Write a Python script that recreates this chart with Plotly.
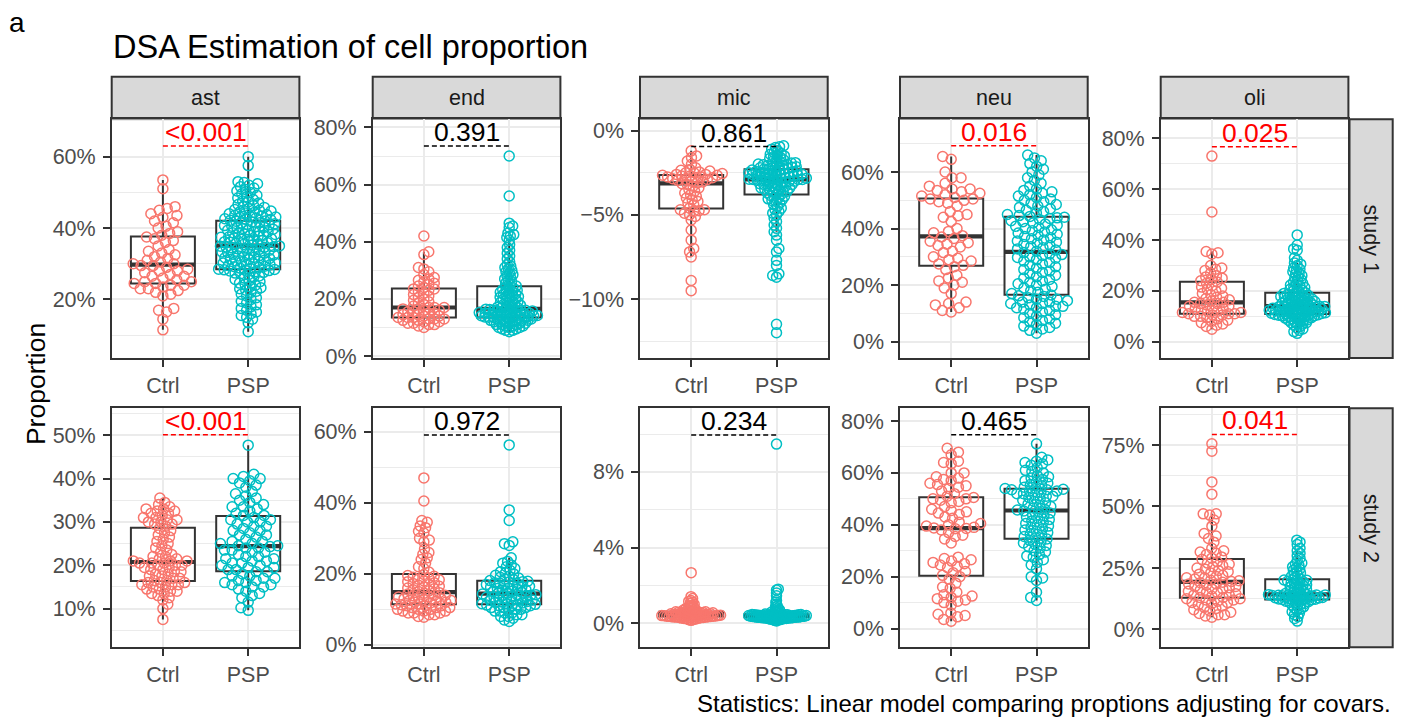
import math
import numpy as np
import plotly.graph_objects as go

# ---------------- data (proportions in percent) ----------------
CELLS = ["ast", "end", "mic", "neu", "oli"]
STUDIES = ["study 1", "study 2"]
GROUPS = ["Ctrl", "PSP"]

ast_s1_ctrl = [11.5, 14.5, 16.5, 17.0, 17.5, 21.0, 21.5, 22.0, 22.5, 23.0, 23.0, 23.5, 24.0, 24.0, 24.5,
               24.5, 25.0, 25.0, 25.5, 26.0, 26.5, 26.5, 27.0, 27.5, 28.0, 28.0, 28.5, 29.0, 29.5, 29.5,
               30.0, 30.0, 30.5, 31.0, 31.5, 32.0, 32.5, 33.0, 33.5, 34.0, 35.0, 36.0, 36.5, 37.0, 37.5,
               38.0, 38.5, 39.0, 40.0, 40.5, 41.5, 42.0, 43.0, 43.5, 44.0, 45.0, 45.5, 46.0, 51.0, 53.5]
ast_s1_psp = [11.0, 13.5, 14.5, 15.0, 15.5, 16.0, 16.5, 17.0, 17.5, 18.0, 18.5, 19.0, 19.5, 20.0, 20.5,
              21.0, 21.5, 22.0, 22.3, 22.6, 23.0, 23.3, 23.6, 24.0, 24.3, 24.6, 25.0, 25.3, 25.6, 26.0,
              26.3, 26.6, 27.0, 27.2, 27.4, 27.6, 27.8, 28.0, 28.1, 28.2, 28.3, 28.4,
              28.5, 28.7, 28.8, 29.0, 29.2, 29.3, 29.5, 29.7, 29.8, 30.0, 30.2, 30.3, 30.5, 30.7, 30.8,
              31.0, 31.2, 31.3, 31.5, 31.7, 31.8, 32.0, 32.2, 32.3, 32.5, 32.7, 32.8, 33.0, 33.2, 33.3,
              33.5, 33.7, 33.8, 34.0, 34.2, 34.3, 34.5, 34.6, 34.7, 34.8, 34.9, 35.0,
              35.2, 35.4, 35.5, 35.7, 35.9, 36.0, 36.2, 36.4, 36.5, 36.7, 36.9, 37.0, 37.2, 37.4, 37.5,
              37.7, 37.9, 38.0, 38.2, 38.4, 38.5, 38.7, 38.9, 39.0, 39.2, 39.4, 39.5, 39.7, 39.9, 40.0,
              40.2, 40.4, 40.5, 40.7, 40.9, 41.0, 41.2, 41.4, 41.5, 41.7, 41.9, 42.0,
              42.2, 42.4, 42.5, 42.6, 42.8, 43.0, 43.1, 43.3, 43.4, 43.6, 43.8, 44.0, 44.2, 44.4, 44.6,
              44.8, 45.0, 45.2, 45.5, 45.8, 46.0, 46.3, 46.6, 47.0, 47.3, 47.6, 48.0, 48.4, 48.8, 49.2,
              49.6, 50.0, 50.4, 50.8, 51.2, 51.6, 52.0, 52.4, 52.8, 53.0, 57.5, 60.0]

end_s1_ctrl = [10.0, 10.5, 11.0, 11.0, 11.5, 11.5, 12.0, 12.0, 12.5, 12.5, 13.0, 13.0, 13.0, 13.5, 13.5,
               13.5, 14.0, 14.0, 14.5, 14.5, 15.0, 15.0, 15.5, 15.5, 16.0, 16.0, 16.5, 16.5, 17.0, 17.0,
               17.0, 17.5, 18.0, 18.5, 19.0, 19.5, 20.0, 20.5, 21.0, 21.5, 22.0, 22.5, 23.0, 23.5, 23.5,
               24.0, 24.5, 25.0, 25.5, 26.0, 26.5, 27.0, 27.5, 28.5, 29.5, 30.5, 31.0, 35.5, 36.5, 42.0]
end_s1_psp = [8.5, 9.0, 9.0, 9.5, 9.5, 10.0, 10.0, 10.0, 10.5, 10.5, 10.5, 11.0, 11.0, 11.0, 11.5, 11.5,
              11.5, 12.0, 12.0, 12.0, 12.0, 12.5, 12.5, 12.5, 12.5, 13.0, 13.0, 13.0, 13.0, 13.5, 13.5, 13.5,
              13.5, 13.6, 13.7, 13.8, 13.9, 14.0, 14.0, 14.1, 14.2, 14.3, 14.4, 14.5, 14.6, 14.7, 14.8, 14.9,
              15.0, 15.0, 15.1, 15.2, 15.3, 15.4, 15.5, 15.6, 15.7, 15.8, 15.9, 16.0, 16.0, 16.2, 16.3, 16.4, 16.5,
              16.6, 16.8, 17.0, 17.1, 17.3, 17.6, 17.8, 18.0, 18.3, 18.6, 18.8, 19.0, 19.3, 19.6, 19.8, 20.0,
              20.3, 20.6, 20.8, 21.0, 21.3, 21.6, 21.8, 22.0, 22.3, 22.6, 22.8, 23.0, 23.3, 23.6, 24.0, 24.2,
              24.5, 25.0, 25.5, 26.0, 26.5, 27.0, 27.5, 28.0, 28.5, 29.0, 29.5, 30.0, 30.5, 31.0, 31.5, 32.0,
              33.0, 34.0, 35.0, 36.0, 37.0, 38.0, 39.0, 40.5, 41.5, 42.0, 42.5, 43.0, 45.0, 45.5, 46.5, 56.0, 70.0]

mic_s1_ctrl = [-9.5, -8.9, -7.5, -7.2, -7.0, -6.5, -5.9, -5.3, -5.1, -5.0, -4.9, -4.8, -4.75, -4.7, -4.7,
               -4.6, -4.4, -4.3, -4.2, -4.1, -4.0, -3.9, -3.8, -3.7, -3.6, -3.5, -3.4, -3.3, -3.2, -3.15,
               -3.1, -3.05, -3.0, -2.95, -2.9, -2.9, -2.85, -2.8, -2.8, -2.75, -2.75, -2.7, -2.7, -2.65, -2.65,
               -2.6, -2.6, -2.55, -2.5, -2.5, -2.45, -2.4, -2.35, -2.3, -2.2, -2.0, -1.8, -1.6, -1.5, -1.2]
mic_s1_psp = [-12.0, -11.5, -8.7, -8.6, -8.5, -8.0, -7.7, -7.2, -7.0, -6.5, -6.2, -6.0, -5.8, -5.6, -5.4,
              -5.2, -5.0, -4.9, -4.8, -4.7, -4.6, -4.5, -4.4, -4.3, -4.2, -4.15, -4.1, -4.05, -4.0, -3.95,
              -3.9, -3.85,
              -3.8, -3.75, -3.7, -3.65, -3.6, -3.6, -3.55, -3.5, -3.5, -3.45, -3.4, -3.4, -3.35, -3.3, -3.3,
              -3.25, -3.25, -3.2, -3.2, -3.15, -3.1, -3.1, -3.05, -3.05, -3.0, -3.0, -3.0, -2.95, -2.95,
              -2.95, -2.9, -2.9, -2.9,
              -2.88, -2.86, -2.84, -2.82, -2.8, -2.78, -2.76, -2.74, -2.72, -2.7, -2.68, -2.66, -2.64, -2.62,
              -2.6, -2.6, -2.58, -2.56, -2.54, -2.52, -2.5, -2.5, -2.48, -2.46, -2.44, -2.42, -2.4, -2.38,
              -2.36, -2.34, -2.32, -2.3,
              -2.28, -2.25, -2.22, -2.2, -2.18, -2.15, -2.12, -2.1, -2.08, -2.05, -2.02, -2.0, -1.98, -1.95,
              -1.92, -1.9, -1.85, -1.8, -1.75, -1.7, -1.65, -1.6, -1.55, -1.5, -1.45, -1.4, -1.35, -1.3,
              -1.2, -1.1, -1.0, -0.95, -0.9]

neu_s1_ctrl = [10.5, 11.0, 12.0, 13.0, 13.5, 14.0, 17.0, 19.0, 20.0, 21.0, 21.5, 22.5, 23.5, 25.5, 26.5,
               27.0, 27.5, 28.5, 29.0, 29.5, 30.0, 31.5, 32.0, 33.5, 34.0, 34.5, 35.0, 35.5, 36.5, 37.0,
               37.5, 38.5, 39.0, 40.0, 42.5, 44.0, 44.5, 45.0, 46.0, 48.0, 49.0, 49.5, 50.0, 50.5, 50.5,
               51.0, 51.5, 52.0, 52.5, 53.0, 53.5, 54.0, 54.0, 55.0, 56.0, 58.0, 58.0, 60.0, 64.5, 65.5]
neu_s1_psp = [3.0, 4.0, 4.5, 5.0, 5.5, 6.0, 6.5, 7.0, 7.5, 8.0, 8.5, 9.0, 9.5, 10.0, 10.5, 11.0, 11.5,
              12.0, 12.0, 12.5, 12.5, 13.0, 13.5, 13.5, 14.0, 14.0, 14.5, 15.0, 15.0, 15.5, 16.0, 16.2,
              16.5, 17.0, 17.5, 18.0, 18.5, 19.0, 19.5, 20.0, 20.5, 21.0, 21.5, 22.0, 22.5, 23.0, 23.5,
              24.0, 24.5, 25.0, 25.5, 26.0, 26.5, 27.0, 27.5, 28.0, 28.5, 29.0, 29.5, 29.8, 30.0, 30.5,
              30.8, 31.0, 31.5,
              32.0, 32.4, 32.8, 33.2, 33.6, 34.0, 34.4, 34.8, 35.2, 35.6, 36.0, 36.4, 36.8, 37.2, 37.6,
              38.0, 38.4, 38.8, 39.2, 39.6, 40.0, 40.4, 40.8, 41.2, 41.6, 42.0, 42.4, 42.8, 43.2, 43.6,
              43.8, 44.0,
              44.3, 44.6, 45.0, 45.5, 46.0, 46.5, 47.0, 47.5, 48.0, 48.5, 49.0, 49.5, 50.0, 50.5, 51.0,
              51.5, 52.0, 52.5, 53.0, 53.5, 54.0, 55.0, 56.0, 57.0, 58.0, 59.0, 60.0, 61.0, 62.0, 63.0,
              64.0, 65.0, 66.0]

oli_s1_ctrl = [4.9, 6.0, 6.5, 7.0, 7.5, 8.0, 8.5, 9.0, 9.5, 10.0, 10.0, 10.5, 10.5, 11.0, 11.0,
               11.0, 11.5, 11.5, 12.0, 12.0, 12.5, 13.0, 13.0, 13.5, 14.0, 14.0, 14.5, 15.0, 15.0, 15.5,
               15.5, 16.0, 16.5, 17.0, 17.5, 18.0, 18.5, 19.0, 20.0, 20.5, 21.0, 21.5, 22.0, 23.0, 23.5,
               24.0, 24.5, 25.0, 25.5, 26.0, 27.0, 28.0, 28.5, 29.0, 30.0, 34.5, 35.0, 35.5, 51.0, 73.0]
oli_s1_psp = [3.3, 4.0, 4.5, 5.0, 5.5, 6.0, 6.5, 7.0, 7.0, 7.5, 7.5, 8.0, 8.0, 8.5, 8.5, 8.8, 9.0, 9.0,
              9.3, 9.5, 9.5, 9.8, 10.0, 10.0, 10.2, 10.3, 10.4, 10.5, 10.5, 10.6, 10.7, 10.8,
              10.9, 11.0, 11.1, 11.2, 11.3, 11.4, 11.5, 11.6, 11.7, 11.8, 11.9, 12.0, 12.0, 12.1, 12.2,
              12.3, 12.4, 12.5, 12.6, 12.7, 12.8, 12.9, 13.0, 13.1, 13.2, 13.3, 13.4, 13.5, 13.6, 13.7,
              13.8, 13.9, 14.0,
              14.0, 14.1, 14.3, 14.5, 14.6, 14.8, 15.0, 15.0, 15.1, 15.3, 15.5, 15.6, 15.8, 16.0, 16.1,
              16.3, 16.5, 16.6, 16.8, 17.0, 17.1, 17.3, 17.5, 17.6, 17.8, 18.0, 18.1, 18.3, 18.5, 18.6,
              18.8, 19.0,
              19.3, 19.6, 20.0, 20.3, 20.6, 21.0, 21.3, 21.6, 22.0, 22.3, 22.6, 23.0, 23.5, 24.0, 24.5,
              25.0, 25.5, 26.0, 26.5, 27.0, 27.5, 28.0, 28.5, 29.0, 30.0, 30.5, 31.0, 32.0, 33.0, 36.0,
              36.5, 38.0, 42.0]

ast_s2_ctrl = [7.5, 10.0, 11.0, 12.0, 12.5, 13.0, 13.5, 13.5, 14.0, 14.0, 14.5, 14.5, 15.0, 15.0, 15.5,
               15.5, 15.5, 16.0, 16.0, 16.0,
               16.5, 16.5, 17.0, 17.0, 17.5, 17.5, 18.0, 18.0, 18.5, 18.5, 19.0, 19.0, 19.5, 19.5, 20.0,
               20.0, 20.0, 20.5, 20.5, 20.5,
               21.0, 21.0, 21.0, 21.5, 21.5, 22.0, 22.0, 22.5, 23.0, 23.5, 24.0, 24.5, 25.0, 25.5, 26.0,
               26.5, 27.0, 27.5, 28.0, 28.5,
               29.0, 29.5, 29.5, 30.0, 30.0, 30.5, 30.5, 31.0, 31.0, 31.5, 32.0, 32.0, 32.5, 32.5, 33.0,
               33.0, 33.5, 34.0, 34.5, 35.5]
ast_s2_psp = [9.6, 10.2, 11.5, 12.5, 13.0, 13.5, 14.0, 14.5, 15.0, 15.0, 15.5, 15.5, 16.0, 16.0, 16.5,
              16.5, 17.0, 17.0, 17.5, 17.5, 18.0, 18.5,
              18.5, 19.0, 19.0, 19.5, 19.5, 20.0, 20.0, 20.5, 20.5, 21.0, 21.0, 21.5, 21.5, 22.0, 22.0,
              22.5, 23.0, 23.0, 23.5, 23.5, 24.0, 24.0, 24.3,
              24.5, 24.5, 25.0, 25.0, 25.5, 25.5, 26.0, 26.5, 27.0, 27.0, 27.5, 28.0, 28.0, 28.5, 29.0,
              29.0, 29.5, 30.0, 30.0, 30.5, 30.5, 31.0,
              31.5, 31.5, 32.0, 32.5, 33.0, 33.5, 33.5, 34.0, 34.5, 35.0, 35.5, 36.0, 36.5, 37.0, 38.0,
              38.5, 39.0, 39.5, 40.0, 40.0, 40.5, 41.0, 47.7]

end_s2_ctrl = [7.8, 8.0, 8.5, 8.5, 9.0, 9.0, 9.0, 9.5, 9.5, 9.5, 10.0, 10.0, 10.0, 10.5, 10.5, 10.5,
               11.0, 11.0, 11.0, 11.3,
               11.5, 11.5, 11.8, 12.0, 12.0, 12.3, 12.5, 12.5, 12.8, 13.0, 13.0, 13.3, 13.5, 13.5, 13.8,
               14.0, 14.0, 14.3, 14.5, 14.7,
               15.0, 15.2, 15.5, 15.8, 16.0, 16.3, 16.5, 16.8, 17.0, 17.3, 17.5, 17.8, 18.0, 18.3, 18.5,
               18.8, 19.0, 19.3, 19.5, 19.8,
               20.5, 21.5, 22.0, 23.0, 24.0, 24.5, 25.5, 26.0, 27.0, 29.0, 29.5, 30.0, 31.5, 32.0, 33.0,
               33.5, 34.5, 35.0, 40.5, 47.0]
end_s2_psp = [6.6, 7.0, 7.5, 8.0, 8.0, 8.5, 8.5, 9.0, 9.0, 9.5, 9.5, 10.0, 10.0, 10.0, 10.5, 10.5, 10.5,
              11.0, 11.0, 11.0, 11.2, 11.3,
              11.4, 11.5, 11.6, 11.8, 12.0, 12.0, 12.2, 12.4, 12.5, 12.6, 12.8, 13.0, 13.0, 13.2, 13.4,
              13.5, 13.6, 13.8, 14.0, 14.0, 14.1, 14.2, 14.3,
              14.5, 14.6, 14.8, 15.0, 15.2, 15.4, 15.5, 15.7, 15.9, 16.0, 16.2, 16.4, 16.5, 16.7, 16.9,
              17.0, 17.2, 17.4, 17.5, 17.7, 17.8, 17.9,
              18.1, 18.3, 18.5, 18.8, 19.0, 19.3, 19.6, 20.0, 20.3, 20.6, 21.0, 21.5, 22.0, 22.5, 23.0,
              23.5, 24.5, 28.0, 28.5, 29.0, 35.0, 38.0, 56.3]

mic_s2_ctrl = [0.15, 0.18, 0.2, 0.22, 0.24, 0.25, 0.26, 0.27, 0.28, 0.29, 0.3, 0.3, 0.31, 0.32, 0.32,
               0.33, 0.33, 0.34, 0.34, 0.35,
               0.35, 0.36, 0.36, 0.37, 0.37, 0.38, 0.38, 0.39, 0.39, 0.4, 0.4, 0.41, 0.41, 0.42, 0.42,
               0.43, 0.43, 0.44, 0.44, 0.45,
               0.45, 0.46, 0.47, 0.48, 0.49, 0.5, 0.5, 0.51, 0.52, 0.53, 0.54, 0.55, 0.55, 0.56, 0.57,
               0.57, 0.58, 0.59, 0.6, 0.6,
               0.62, 0.64, 0.66, 0.68, 0.7, 0.72, 0.75, 0.78, 0.8, 0.85, 0.9, 0.95, 1.0, 1.05, 1.1,
               1.15, 1.2, 1.3, 1.4, 2.67]
mic_s2_psp = [0.12, 0.15, 0.17, 0.19, 0.2, 0.21, 0.22, 0.23, 0.24, 0.25, 0.25, 0.26, 0.26, 0.27, 0.27,
              0.28, 0.28, 0.29, 0.29, 0.3, 0.3, 0.3,
              0.31, 0.31, 0.32, 0.32, 0.32, 0.33, 0.33, 0.33, 0.34, 0.34, 0.34, 0.35, 0.35, 0.35, 0.36,
              0.36, 0.36, 0.37, 0.37, 0.37, 0.38, 0.38, 0.38,
              0.39, 0.39, 0.39, 0.4, 0.4, 0.4, 0.41, 0.41, 0.42, 0.42, 0.42, 0.43, 0.43, 0.43, 0.44,
              0.44, 0.44, 0.45, 0.45, 0.45, 0.46, 0.46,
              0.47, 0.48, 0.5, 0.52, 0.54, 0.56, 0.58, 0.6, 0.63, 0.66, 0.7, 0.75, 0.8, 0.85, 0.9, 1.0,
              1.1, 1.2, 1.45, 1.6, 1.75, 1.8, 9.47]

neu_s2_ctrl = [2.8, 3.5, 4.5, 5.0, 5.5, 6.0, 9.0, 10.0, 10.5, 11.0, 11.5, 12.0, 12.5, 13.0, 14.0, 15.5,
               16.0, 17.5, 19.0, 20.0,
               20.5, 21.5, 22.0, 23.5, 24.0, 24.5, 25.0, 25.5, 26.0, 26.5, 27.0, 27.5, 33.0, 34.5, 35.5,
               36.0, 37.0, 38.0, 38.5, 38.6,
               38.8, 39.0, 39.5, 40.0, 40.5, 41.0, 42.5, 43.0, 44.0, 44.5, 45.0, 45.5, 46.0, 47.0, 48.5,
               49.0, 49.5, 50.0, 50.0, 50.5,
               51.0, 52.0, 53.0, 54.0, 54.5, 55.0, 55.5, 56.0, 57.0, 57.5, 58.0, 58.5, 60.0, 60.0, 63.5,
               64.0, 64.5, 67.0, 68.0, 69.5]
neu_s2_psp = [10.8, 12.0, 14.0, 18.5, 19.5, 20.0, 23.0, 24.5, 25.5, 26.5, 27.5, 28.0, 28.5, 29.5, 30.0,
              31.0, 31.5, 32.0, 32.5, 33.0, 33.5, 34.0,
              34.5, 35.0, 35.5, 36.0, 36.5, 37.0, 37.5, 38.0, 38.5, 39.0, 39.5, 40.0, 40.5, 41.0, 41.5,
              42.0, 42.5, 43.0, 43.5, 44.0, 44.5, 45.0, 45.3,
              45.7, 46.0, 46.5, 47.0, 47.5, 48.0, 48.5, 49.0, 49.5, 50.0, 50.5, 51.0, 51.0, 51.5, 52.0,
              52.0, 52.5, 53.0, 53.0, 53.5, 53.5, 53.7,
              54.0, 54.0, 54.5, 55.0, 55.5, 56.0, 56.5, 57.0, 57.5, 58.0, 58.5, 59.0, 60.0, 60.5, 61.0,
              62.0, 63.0, 63.5, 64.0, 64.5, 65.0, 66.0, 71.2]

oli_s2_ctrl = [5.0, 5.5, 6.0, 6.0, 6.5, 7.0, 7.5, 8.0, 8.5, 9.0, 9.5, 10.0, 10.5, 11.0, 11.0, 11.5,
               12.0, 12.0, 12.5, 12.5,
               13.0, 13.0, 13.5, 14.0, 14.0, 14.5, 15.0, 15.0, 15.5, 16.0, 16.5, 16.5, 17.0, 17.5, 17.5,
               18.0, 18.5, 18.5, 19.0, 19.2,
               19.5, 19.8, 20.0, 20.5, 21.0, 21.0, 21.5, 22.0, 22.5, 23.0, 23.5, 24.0, 24.5, 25.0, 25.5,
               26.0, 26.5, 27.0, 27.5, 28.5,
               29.0, 29.5, 30.5, 31.0, 31.5, 32.0, 33.0, 35.5, 37.0, 38.0, 39.0, 42.0, 44.5, 46.5, 47.0,
               47.0, 55.0, 60.0, 72.5, 75.5]
oli_s2_psp = [3.4, 4.5, 5.2, 6.0, 6.6, 7.2, 7.8, 8.3, 8.8, 9.2, 9.6, 10.0, 10.3, 10.6, 10.9, 11.1,
              11.3, 11.5, 11.7, 11.9, 12.0, 12.1,
              12.2, 12.3, 12.4, 12.5, 12.6, 12.7, 12.8, 12.9, 13.0, 13.1, 13.2, 13.3, 13.4, 13.5, 13.6,
              13.7, 13.8, 13.9, 14.0, 14.05, 14.1, 14.15, 14.2,
              14.4, 14.6, 14.9, 15.2, 15.5, 15.8, 16.1, 16.4, 16.7, 17.0, 17.3, 17.6, 17.9, 18.2, 18.5,
              18.8, 19.1, 19.4, 19.6, 19.8, 20.0, 20.1,
              20.5, 21.0, 21.5, 22.0, 22.5, 23.0, 23.5, 24.0, 24.5, 25.0, 25.5, 26.0, 26.5, 27.0, 28.0,
              29.0, 30.0, 31.0, 32.0, 33.0, 34.5, 35.5, 36.3]

VALUES = {
    ("ast", "study 1", "Ctrl"): ast_s1_ctrl, ("ast", "study 1", "PSP"): ast_s1_psp,
    ("end", "study 1", "Ctrl"): end_s1_ctrl, ("end", "study 1", "PSP"): end_s1_psp,
    ("mic", "study 1", "Ctrl"): mic_s1_ctrl, ("mic", "study 1", "PSP"): mic_s1_psp,
    ("neu", "study 1", "Ctrl"): neu_s1_ctrl, ("neu", "study 1", "PSP"): neu_s1_psp,
    ("oli", "study 1", "Ctrl"): oli_s1_ctrl, ("oli", "study 1", "PSP"): oli_s1_psp,
    ("ast", "study 2", "Ctrl"): ast_s2_ctrl, ("ast", "study 2", "PSP"): ast_s2_psp,
    ("end", "study 2", "Ctrl"): end_s2_ctrl, ("end", "study 2", "PSP"): end_s2_psp,
    ("mic", "study 2", "Ctrl"): mic_s2_ctrl, ("mic", "study 2", "PSP"): mic_s2_psp,
    ("neu", "study 2", "Ctrl"): neu_s2_ctrl, ("neu", "study 2", "PSP"): neu_s2_psp,
    ("oli", "study 2", "Ctrl"): oli_s2_ctrl, ("oli", "study 2", "PSP"): oli_s2_psp,
}

P_LABELS = {
    ("ast", "study 1"): "<0.001", ("end", "study 1"): "0.391", ("mic", "study 1"): "0.861",
    ("neu", "study 1"): "0.016", ("oli", "study 1"): "0.025",
    ("ast", "study 2"): "<0.001", ("end", "study 2"): "0.972", ("mic", "study 2"): "0.234",
    ("neu", "study 2"): "0.465", ("oli", "study 2"): "0.041",
}

Y_TICKS = {
    ("ast", "study 1"): [20, 40, 60], ("end", "study 1"): [0, 20, 40, 60, 80],
    ("mic", "study 1"): [-10, -5, 0], ("neu", "study 1"): [0, 20, 40, 60],
    ("oli", "study 1"): [0, 20, 40, 60, 80],
    ("ast", "study 2"): [10, 20, 30, 40, 50], ("end", "study 2"): [0, 20, 40, 60],
    ("mic", "study 2"): [0, 4, 8], ("neu", "study 2"): [0, 20, 40, 60, 80],
    ("oli", "study 2"): [0, 25, 50, 75],
}

TITLE = "DSA Estimation of cell proportion"
CAPTION = "Statistics: Linear model comparing proptions adjusting for covars."
Y_TITLE = "Proportion"

# ---------------- layout / style ----------------
W, H = 1401, 728
FONT = "Liberation Sans, Arial, Helvetica, sans-serif"
COLORS = {"Ctrl": "#F8766D", "PSP": "#00BFC4"}
GRID = "#EBEBEB"
DARK = "#333333"

Y_RANGES = {
    ("ast", "study 1"): [3.6, 70.5], ("end", "study 1"): [-0.7, 82.9],
    ("mic", "study 1"): [-13.5, 0.68], ("neu", "study 1"): [-5.8, 78.7],
    ("oli", "study 1"): [-6.4, 87.5],
    ("ast", "study 2"): [1.1, 56.2], ("end", "study 2"): [-0.66, 66.6],
    ("mic", "study 2"): [-1.27, 11.36], ("neu", "study 2"): [-7.2, 84.9],
    ("oli", "study 2"): [-7.2, 89.9],
}
COL_LEFT = [111.7, 372.7, 640.0, 900.0, 1160.7]
COL_W = 187.7
ROW_TOP = [118.3, 412.7]
ROW_H = 243.2
X_RANGE = [0.4, 2.6]
STRIP_TOP = 75.0
STRIP_R = (1349.5, 1392.7)


def fx(px):
    return px / W


def fy(py):
    return 1 - py / H


def swarm_offsets(vals, ypx, dmax, half):
    y = np.asarray(vals, float) * ypx
    order = np.argsort(y, kind="stable")
    d = dmax
    while True:
        xs = np.zeros(len(y))
        pxs, pys = [], []
        for k, i in enumerate(order):
            yi = y[i]
            if pxs:
                ax = np.array(pxs)
                ay = np.array(pys)
                m = np.abs(ay - yi) < d
                nx, ny = ax[m], ay[m]
            else:
                nx, ny = np.array([]), np.array([])
            cands = [0.0]
            for a, b in zip(nx, ny):
                dx = math.sqrt(max(d * d - (b - yi) ** 2, 0.0))
                cands += [a + dx, a - dx]
            sgn = 1 if k % 2 == 0 else -1
            cands.sort(key=lambda c: (round(abs(c), 5), -sgn * c))
            chosen = 0.0
            for c in cands:
                if len(nx) == 0 or np.all((nx - c) ** 2 + (ny - yi) ** 2 >= d * d - 1e-6):
                    chosen = c
                    break
            xs[i] = chosen
            pxs.append(chosen)
            pys.append(yi)
        if np.max(np.abs(xs)) <= half or d < 2:
            return xs
        d *= 0.95


def box_stats(v):
    v = np.asarray(v, float)
    q1, med, q3 = np.percentile(v, [25, 50, 75])
    iqr = q3 - q1
    lf = v[v >= q1 - 1.5 * iqr].min()
    uf = v[v <= q3 + 1.5 * iqr].max()
    return q1, med, q3, lf, uf


def pct(t):
    s = f"{t:g}%"
    return s.replace("-", "\u2212")


fig = go.Figure()
layout = dict(
    width=W, height=H, margin=dict(l=0, r=0, t=0, b=0),
    paper_bgcolor="white", plot_bgcolor="white", showlegend=False,
    font=dict(family=FONT),
)
shapes, annotations = [], []

for r, study in enumerate(STUDIES):
    for c, cell in enumerate(CELLS):
        n = r * 5 + c + 1
        xa = "x" if n == 1 else f"x{n}"
        ya = "y" if n == 1 else f"y{n}"
        xkey = "xaxis" if n == 1 else f"xaxis{n}"
        ykey = "yaxis" if n == 1 else f"yaxis{n}"
        left, top = COL_LEFT[c], ROW_TOP[r]
        yr = Y_RANGES[(cell, study)]
        ticks = Y_TICKS[(cell, study)]
        step = ticks[1] - ticks[0]
        minor = [t - step / 2 for t in ticks] + [ticks[-1] + step / 2]

        layout[xkey] = dict(
            domain=[fx(left), fx(left + COL_W)], range=X_RANGE, anchor=ya,
            tickmode="array", tickvals=[1, 2], ticktext=GROUPS,
            showgrid=True, gridcolor=GRID, gridwidth=1.8, zeroline=False,
            showline=True, mirror=True, linecolor=DARK, linewidth=2,
            ticks="outside", ticklen=6.7, tickwidth=2, tickcolor=DARK,
            tickfont=dict(size=21.5, color="#4D4D4D", family=FONT), fixedrange=True,
        )
        layout[ykey] = dict(
            domain=[fy(top + ROW_H), fy(top)], range=yr, anchor=xa,
            tickmode="array", tickvals=ticks, ticktext=[pct(t) for t in ticks],
            showgrid=True, gridcolor=GRID, gridwidth=1.8, zeroline=False,
            minor=dict(tickvals=minor, showgrid=True, gridcolor=GRID, gridwidth=0.9, ticks=""),
            showline=True, mirror=True, linecolor=DARK, linewidth=2,
            ticks="outside", ticklen=6.7, tickwidth=2, tickcolor=DARK,
            ticklabelstandoff=3,
            tickfont=dict(size=21.5, color="#4D4D4D", family=FONT), fixedrange=True,
        )

        xpx = COL_W / (X_RANGE[1] - X_RANGE[0])
        ypx = ROW_H / (yr[1] - yr[0])
        gmax = -1e9
        for g_i, g in enumerate(GROUPS):
            v = VALUES[(cell, study, g)]
            gmax = max(gmax, max(v))
            pos = g_i + 1
            q1, med, q3, lf, uf = box_stats(v)
            fig.add_trace(go.Box(
                x=[pos], q1=[q1], median=[med], q3=[q3], lowerfence=[lf], upperfence=[uf],
                width=0.75, boxpoints=False, fillcolor="white",
                line=dict(color=DARK, width=2), whiskerwidth=0,
                xaxis=xa, yaxis=ya, hoverinfo="skip",
            ))
            fig.add_trace(go.Scatter(
                x=[pos - 0.375, pos + 0.375], y=[med, med], mode="lines",
                line=dict(color=DARK, width=4.2), xaxis=xa, yaxis=ya, hoverinfo="skip",
            ))
        for g_i, g in enumerate(GROUPS):
            v = VALUES[(cell, study, g)]
            offs = swarm_offsets(v, ypx, 10.5, 31.5)
            fig.add_trace(go.Scatter(
                x=(g_i + 1) + offs / xpx, y=v, mode="markers",
                marker=dict(symbol="circle-open", size=10, color=COLORS[g], line=dict(width=1.5)),
                xaxis=xa, yaxis=ya, hoverinfo="skip",
            ))

        # p-value bracket
        lab = P_LABELS[(cell, study)]
        pv = 0.0 if lab.startswith("<") else float(lab)
        pc = "#FF0000" if pv < 0.05 else "#000000"
        by = gmax * 1.05
        shapes.append(dict(type="line", xref=xa, yref=ya, x0=1, x1=2, y0=by, y1=by,
                           line=dict(color=pc, width=1.5, dash="5px,3px")))
        annotations.append(dict(xref=xa, yref=ya, x=1.5, y=by, text=lab, showarrow=False,
                                xanchor="center", yanchor="bottom", yshift=-3,
                                font=dict(size=26.5, color=pc, family=FONT)))

        # strips
        if r == 0:
            shapes.append(dict(type="rect", xref="paper", yref="paper",
                               x0=fx(left), x1=fx(left + COL_W), y0=fy(top - 0.8), y1=fy(STRIP_TOP),
                               fillcolor="#D9D9D9", line=dict(color=DARK, width=2), layer="below"))
            annotations.append(dict(xref="paper", yref="paper", x=fx(left + COL_W / 2),
                                    y=fy((STRIP_TOP + top) / 2), text=cell, showarrow=False,
                                    xanchor="center", yanchor="middle",
                                    font=dict(size=21.5, color="#1A1A1A", family=FONT)))
        if c == 4:
            shapes.append(dict(type="rect", xref="paper", yref="paper",
                               x0=fx(STRIP_R[0]), x1=fx(STRIP_R[1]), y0=fy(top + ROW_H), y1=fy(top),
                               fillcolor="#D9D9D9", line=dict(color=DARK, width=2), layer="below"))
            annotations.append(dict(xref="paper", yref="paper", x=fx(sum(STRIP_R) / 2),
                                    y=fy(top + ROW_H / 2), text=study, showarrow=False,
                                    textangle=90, xanchor="center", yanchor="middle",
                                    font=dict(size=21.5, color="#1A1A1A", family=FONT)))

annotations.append(dict(xref="paper", yref="paper", x=fx(111.0), y=fy(45), text=TITLE,
                        showarrow=False, xanchor="left", yanchor="middle",
                        font=dict(size=32.5, color="#000000", family=FONT)))
annotations.append(dict(xref="paper", yref="paper", x=fx(7), y=fy(20), text="a",
                        showarrow=False, xanchor="left", yanchor="middle",
                        font=dict(size=28, color="#000000", family=FONT)))
annotations.append(dict(xref="paper", yref="paper", x=fx(36), y=fy(388), text=Y_TITLE,
                        showarrow=False, textangle=-90, xanchor="center", yanchor="middle",
                        font=dict(size=26.5, color="#000000", family=FONT)))
annotations.append(dict(xref="paper", yref="paper", x=fx(1393), y=fy(713), text=CAPTION,
                        showarrow=False, xanchor="right", yanchor="middle",
                        font=dict(size=24, color="#000000", family=FONT)))

layout["shapes"] = shapes
layout["annotations"] = annotations
fig.update_layout(**layout)
fig.write_html("out.html")
